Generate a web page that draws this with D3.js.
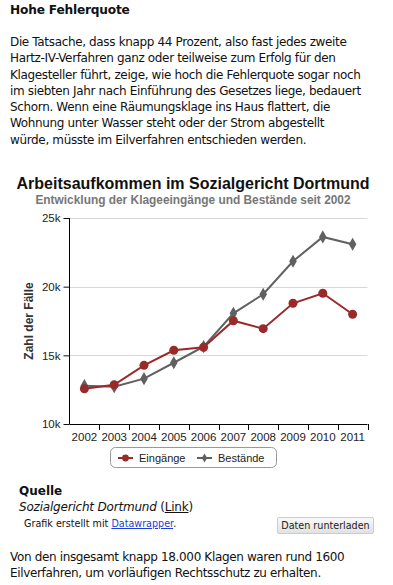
<!DOCTYPE html>
<html>
<head>
<meta charset="utf-8">
<script src="https://d3js.org/d3.v7.min.js"></script>
<style>
  body { margin:0; background:#fff; width:393px; height:585px; position:relative; overflow:hidden;
         font-family:"DejaVu Sans", Verdana, sans-serif; color:#111; }
  .txt { position:absolute; left:10px; font-size:12px; letter-spacing:-0.35px; line-height:16.3px; white-space:nowrap; }
  .head { position:absolute; left:10px; top:3px; font-size:12.2px; font-weight:bold; letter-spacing:-0.2px; }
  .quelle { position:absolute; left:19px; top:484px; font-size:12px; font-weight:bold; }
  .src { position:absolute; left:19px; top:500px; font-size:12px; font-style:italic; letter-spacing:-0.2px; }
  .src span { font-style:normal; }
  .made { position:absolute; left:24px; top:518px; font-size:9.6px; }
  .made a { color:#1a3fd6; }
  .btn { position:absolute; left:277px; top:517px; width:95px; height:15px; font-size:9.6px;
         text-align:center; line-height:15px; border:1px solid #ccc; border-radius:2px;
         background:linear-gradient(#f8f8f8,#e2e2e2); color:#222; }
  svg text { font-family:"Liberation Sans", Arial, sans-serif; }
  .title { font-size:16px; font-weight:bold; fill:#111; }
  .sub { font-size:11.9px; font-weight:bold; fill:#777; }
  .tick text { font-size:11.5px; fill:#222; }
</style>
</head>
<body>
<div class="head">Hohe Fehlerquote</div>
<div class="txt" style="top:34px">Die Tatsache, dass knapp 44 Prozent, also fast jedes zweite<br>Hartz-IV-Verfahren ganz oder teilweise zum Erfolg für den<br>Klagesteller führt, zeige, wie hoch die Fehlerquote sogar noch<br>im siebten Jahr nach Einführung des Gesetzes liege, bedauert<br>Schorn. Wenn eine Räumungsklage ins Haus flattert, die<br>Wohnung unter Wasser steht oder der Strom abgestellt<br>würde, müsste im Eilverfahren entschieden werden.</div>
<div class="quelle">Quelle</div>
<div class="src">Sozialgericht Dortmund <span>(<u>Link</u>)</span></div>
<div class="made">Grafik erstellt mit <a href="#">Datawrapper</a>.</div>
<div class="btn">Daten runterladen</div>
<div class="txt" style="top:549px">Von den insgesamt knapp 18.000 Klagen waren rund 1600<br>Eilverfahren, um vorläufigen Rechtsschutz zu erhalten.</div>
<script>
var years = ["2002","2003","2004","2005","2006","2007","2008","2009","2010","2011"];
var eingaenge = [12570, 12860, 14270, 15370, 15590, 17520, 16940, 18790, 19520, 17990];
var bestaende = [12790, 12720, 13300, 14460, 15630, 18060, 19450, 21850, 23620, 23090];
var yTicks = [10000, 15000, 20000, 25000];
var seriesNames = ["Eingänge", "Bestände"];
var seriesColors = ["#992a2a", "#606060"];

var svg = d3.select("body").append("svg")
  .attr("width", 393).attr("height", 585)
  .style("position", "absolute").style("left", 0).style("top", 0);

svg.append("text").attr("class","title").attr("x",193).attr("y",189)
  .attr("text-anchor","middle").text("Arbeitsaufkommen im Sozialgericht Dortmund");
svg.append("text").attr("class","sub").attr("x",193).attr("y",204)
  .attr("text-anchor","middle").text("Entwicklung der Klageeingänge und Bestände seit 2002");

var x = d3.scaleBand().domain(years).range([69.5, 367.5]);
var y = d3.scaleLinear().domain([10000, 25000]).range([424, 218]);

// gridlines
svg.append("g").selectAll("line").data(yTicks.slice(1)).enter().append("line")
  .attr("x1", 69.5).attr("x2", 367.5)
  .attr("y1", function(d){return Math.round(y(d))+0.5;})
  .attr("y2", function(d){return Math.round(y(d))+0.5;})
  .attr("stroke", "#d8d8d8");

var yAxis = svg.append("g").attr("transform","translate(69.5,0)")
  .call(d3.axisLeft(y).tickValues(yTicks).tickSize(6).tickPadding(3)
    .tickFormat(function(d){return (d/1000)+"k";}));
yAxis.select(".domain").attr("d","M0,218V424").attr("stroke","#000");

var xAxis = svg.append("g").attr("transform","translate(0,424.5)")
  .call(d3.axisBottom(x).tickSize(0).tickPadding(8));
xAxis.select(".domain").attr("d","M69.5,0H367.5").attr("stroke","#000");
svg.append("g").selectAll("line").data(years).enter().append("line")
  .attr("x1", function(d){return Math.round(x(d)+x.bandwidth())+0.5;})
  .attr("x2", function(d){return Math.round(x(d)+x.bandwidth())+0.5;})
  .attr("y1", 424).attr("y2", 430).attr("stroke", "#000");

svg.append("text").attr("transform","translate(33,321) rotate(-90)")
  .attr("text-anchor","middle").style("font-size","12px").style("font-weight","bold")
  .attr("fill","#333").text("Zahl der Fälle");

var cx = function(d, i){return x(years[i]) + x.bandwidth()/2;};
var line = d3.line().x(cx).y(function(d){return y(d);});

svg.append("path").datum(bestaende).attr("d", line).attr("fill","none")
  .attr("stroke", seriesColors[1]).attr("stroke-width", 2);
svg.append("g").selectAll("path").data(bestaende).enter().append("path")
  .attr("d", d3.symbol(d3.symbolDiamond, 50))
  .attr("transform", function(d,i){return "translate("+cx(d,i)+","+y(d)+")";})
  .attr("fill", seriesColors[1]);

svg.append("path").datum(eingaenge).attr("d", line).attr("fill","none")
  .attr("stroke", seriesColors[0]).attr("stroke-width", 2);
svg.append("g").selectAll("circle").data(eingaenge).enter().append("circle")
  .attr("cx", cx).attr("cy", function(d){return y(d);}).attr("r", 4.5)
  .attr("fill", seriesColors[0]);

// legend
svg.append("rect").attr("x",110.5).attr("y",447.5).attr("width",166).attr("height",20)
  .attr("rx",5).attr("fill","#fff").attr("stroke","#999");
var lg = svg.append("g").selectAll("g").data(seriesNames).enter().append("g")
  .attr("transform", function(d,i){return "translate("+(118+i*79)+",462)";});
lg.append("line").attr("x1",0).attr("x2",15).attr("y1",-4).attr("y2",-4)
  .attr("stroke", function(d,i){return seriesColors[i];}).attr("stroke-width",2);
lg.append("path").attr("transform","translate(7.5,-4)")
  .attr("d", function(d,i){return i==0 ? d3.symbol(d3.symbolCircle, 36)() : d3.symbol(d3.symbolDiamond, 24)();})
  .attr("fill", function(d,i){return seriesColors[i];});
lg.append("text").attr("x",21).attr("y",0).style("font-size","11px").attr("fill","#222")
  .text(function(d){return d;});
</script>
</body>
</html>
